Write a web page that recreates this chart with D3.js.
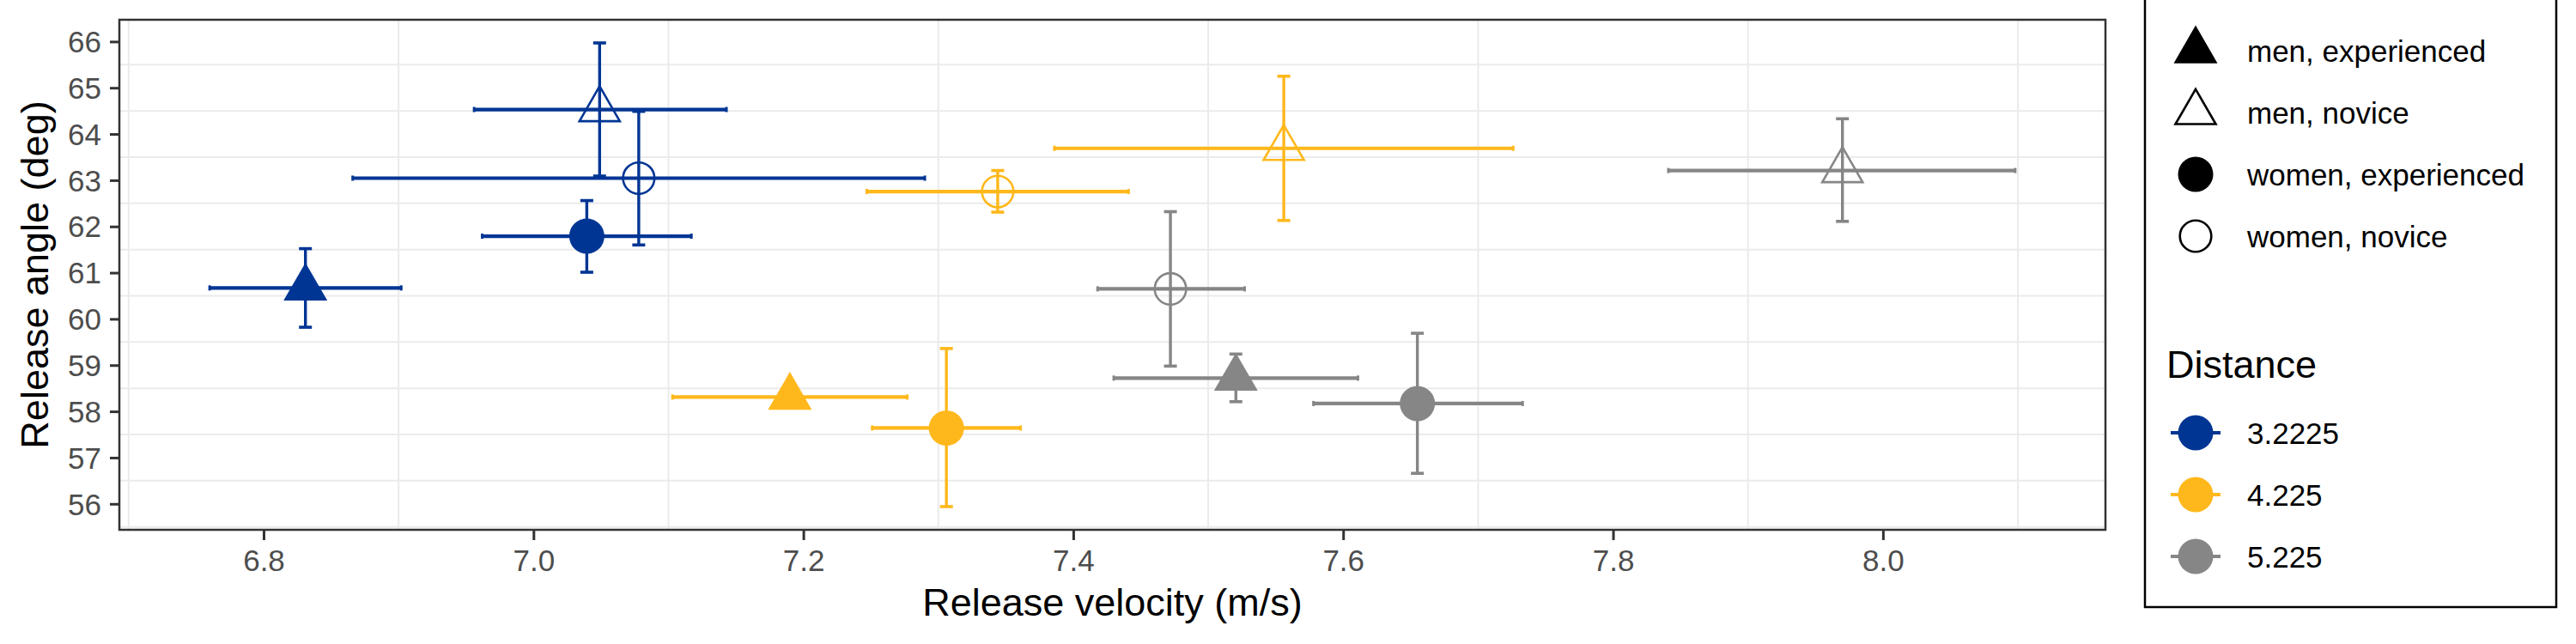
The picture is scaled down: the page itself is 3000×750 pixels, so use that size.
<!DOCTYPE html>
<html>
<head>
<meta charset="utf-8">
<script src="https://cdn.jsdelivr.net/npm/d3@7"></script>
<style>
  html, body { margin: 0; padding: 0; background: #fff; }
  svg { display: block; font-family: "Liberation Sans", Arial, Helvetica, sans-serif; }
</style>
</head>
<body>
<svg id="chart" width="3000" height="750"></svg>
<script>
// ---------------- data ----------------
const distances = ["3.2225", "4.225", "5.225"];
const distanceColors = ["#003594", "#FFB81C", "#868686"];
const groups = ["men, experienced", "men, novice", "women, experienced", "women, novice"];
const groupShape = ["triangle", "triangle", "circle", "circle"];
const groupFilled = [true, false, true, false];

// one entry per point: distance index, group index
const pointDistance = [0, 0, 0, 0, 1, 1, 1, 1, 2, 2, 2, 2];
const pointGroup    = [0, 1, 2, 3, 0, 1, 2, 3, 0, 1, 2, 3];
const velocity      = [6.831, 7.049, 7.0395, 7.078, 7.190, 7.556, 7.306, 7.344, 7.5205, 7.970, 7.655, 7.472];
const velocityLow   = [6.760, 6.956, 6.962, 6.866, 7.103, 7.386, 7.251, 7.247, 7.430, 7.841, 7.578, 7.418];
const velocityHigh  = [6.902, 7.143, 7.117, 7.290, 7.277, 7.726, 7.361, 7.441, 7.611, 8.098, 7.733, 7.527];
const angle         = [60.67, 64.53, 61.79, 63.045, 58.31, 63.69, 57.64, 62.756, 58.72, 63.21, 58.17, 60.65];
const angleLow      = [59.82, 63.09, 61.01, 61.60, 58.16, 62.13, 55.94, 62.31, 58.21, 62.11, 56.66, 58.98];
const angleHigh     = [61.52, 65.97, 62.56, 64.49, 58.46, 65.25, 59.36, 63.21, 59.24, 64.33, 59.69, 62.32];

const xTicks = [6.8, 7.0, 7.2, 7.4, 7.6, 7.8, 8.0];
const yTicks = [56, 57, 58, 59, 60, 61, 62, 63, 64, 65, 66];
const xGrid = [6.7, 6.9, 7.1, 7.3, 7.5, 7.7, 7.9, 8.1];
const yGrid = [55.5, 56.5, 57.5, 58.5, 59.5, 60.5, 61.5, 62.5, 63.5, 64.5, 65.5];

const xTitle = "Release velocity (m/s)";
const yTitle = "Release angle (deg)";
const legendTitle = "Distance";

// ---------------- layout ----------------
const panel = { left: 139, right: 2452, top: 23, bottom: 617 };
const svg = d3.select("#chart");

function expand(lo, hi) { const d = (hi - lo) * 0.05; return [lo - d, hi + d]; }
const xDom = expand(d3.min(velocityLow), d3.max(velocityHigh));
const yDom = expand(d3.min(angleLow), d3.max(angleHigh));
const x = d3.scaleLinear().domain(xDom).range([panel.left, panel.right]);
const y = d3.scaleLinear().domain(yDom).range([panel.bottom, panel.top]);

const gridColor = "#ebebeb";
const gGrid = svg.append("g");
gGrid.selectAll("line.gx").data(xGrid).join("line")
  .attr("x1", d => x(d)).attr("x2", d => x(d))
  .attr("y1", panel.top).attr("y2", panel.bottom)
  .attr("stroke", gridColor).attr("stroke-width", 2);
gGrid.selectAll("line.gy").data(yGrid).join("line")
  .attr("y1", d => y(d)).attr("y2", d => y(d))
  .attr("x1", panel.left).attr("x2", panel.right)
  .attr("stroke", gridColor).attr("stroke-width", 2);

// ---------------- error bars ----------------
const idx = d3.range(velocity.length);
const gErr = svg.append("g").attr("stroke-linecap", "butt");
const col = i => distanceColors[pointDistance[i]];
const hw = 4.2, vw = 3.4, capW = 7.5, capH = 3;

idx.forEach(i => {
  const c = col(i);
  // horizontal
  gErr.append("line")
    .attr("x1", x(velocityLow[i])).attr("x2", x(velocityHigh[i]))
    .attr("y1", y(angle[i])).attr("y2", y(angle[i]))
    .attr("stroke", c).attr("stroke-width", hw);
  [velocityLow[i], velocityHigh[i]].forEach(v => {
    gErr.append("line")
      .attr("x1", x(v)).attr("x2", x(v))
      .attr("y1", y(angle[i]) - capH).attr("y2", y(angle[i]) + capH)
      .attr("stroke", c).attr("stroke-width", 3);
  });
  // vertical
  gErr.append("line")
    .attr("x1", x(velocity[i])).attr("x2", x(velocity[i]))
    .attr("y1", y(angleLow[i])).attr("y2", y(angleHigh[i]))
    .attr("stroke", c).attr("stroke-width", vw);
  [angleLow[i], angleHigh[i]].forEach(v => {
    gErr.append("line")
      .attr("x1", x(velocity[i]) - capW).attr("x2", x(velocity[i]) + capW)
      .attr("y1", y(v)).attr("y2", y(v))
      .attr("stroke", c).attr("stroke-width", 3.6);
  });
});

// ---------------- points ----------------
function trianglePath(side) {
  const h = side * Math.sqrt(3) / 2;
  return `M0,${-2 * h / 3}L${side / 2},${h / 3}L${-side / 2},${h / 3}Z`;
}
function drawSymbol(g, shape, filled, color, cx, cy) {
  if (shape === "triangle") {
    g.append("path")
      .attr("d", trianglePath(filled ? 51 : 47))
      .attr("transform", `translate(${cx},${cy})`)
      .attr("fill", filled ? color : "none")
      .attr("stroke", filled ? "none" : color)
      .attr("stroke-width", 2.6)
      .attr("stroke-linejoin", "miter");
  } else {
    g.append("circle")
      .attr("cx", cx).attr("cy", cy)
      .attr("r", filled ? 20.5 : 18.3)
      .attr("fill", filled ? color : "none")
      .attr("stroke", filled ? "none" : color)
      .attr("stroke-width", 2.6);
  }
}
const gPts = svg.append("g");
idx.forEach(i => {
  const gi = pointGroup[i];
  drawSymbol(gPts, groupShape[gi], groupFilled[gi], col(i), x(velocity[i]), y(angle[i]));
});

// ---------------- panel border ----------------
svg.append("rect")
  .attr("x", panel.left).attr("y", panel.top)
  .attr("width", panel.right - panel.left).attr("height", panel.bottom - panel.top)
  .attr("fill", "none").attr("stroke", "#333333").attr("stroke-width", 2.5);

// ---------------- axes ----------------
const xAxis = svg.append("g")
  .attr("transform", `translate(0,${panel.bottom})`)
  .call(d3.axisBottom(x).tickValues(xTicks).tickFormat(d3.format(".1f")).tickSize(12).tickPadding(14));
const yAxis = svg.append("g")
  .attr("transform", `translate(${panel.left},0)`)
  .call(d3.axisLeft(y).tickValues(yTicks).tickFormat(d3.format("d")).tickSize(11).tickPadding(10));
[xAxis, yAxis].forEach(a => {
  a.select(".domain").remove();
  a.selectAll(".tick line").attr("stroke", "#333333").attr("stroke-width", 3);
  a.selectAll(".tick text")
    .attr("fill", "#4d4d4d")
    .style("font-size", "35px")
    .style("font-family", "'Liberation Sans', Arial, sans-serif");
});
xAxis.selectAll(".tick text").attr("dy", null).attr("y", null)
  .attr("transform", "translate(0,48)");
yAxis.selectAll(".tick text").attr("dy", "0.35em");

svg.append("text")
  .attr("x", (panel.left + panel.right) / 2).attr("y", 717)
  .attr("text-anchor", "middle")
  .style("font-size", "45px").attr("fill", "#000")
  .text(xTitle);
svg.append("text")
  .attr("transform", `translate(56,${(panel.top + panel.bottom) / 2}) rotate(-90)`)
  .attr("text-anchor", "middle")
  .style("font-size", "45px").attr("fill", "#000")
  .text(yTitle);

// ---------------- legend ----------------
const lg = svg.append("g");
lg.append("rect")
  .attr("x", 2498).attr("y", -10).attr("width", 2977 - 2498).attr("height", 707 + 10)
  .attr("fill", "#fff").attr("stroke", "#000").attr("stroke-width", 2.5);

const shapeRowY = [59, 131, 203, 275];
groups.forEach((gname, k) => {
  drawSymbol(lg, groupShape[k], groupFilled[k], "#000", 2557, shapeRowY[k]);
  lg.append("text")
    .attr("x", 2617).attr("y", shapeRowY[k] + 12.5)
    .style("font-size", "35px").attr("fill", "#000")
    .text(gname);
});

lg.append("text")
  .attr("x", 2523).attr("y", 440)
  .style("font-size", "45px").attr("fill", "#000")
  .text(legendTitle);

const colorRowY = [504, 576, 648];
distances.forEach((dname, k) => {
  const c = distanceColors[k];
  lg.append("line")
    .attr("x1", 2528).attr("x2", 2586)
    .attr("y1", colorRowY[k]).attr("y2", colorRowY[k])
    .attr("stroke", c).attr("stroke-width", 4);
  lg.append("circle")
    .attr("cx", 2557).attr("cy", colorRowY[k]).attr("r", 20.5)
    .attr("fill", c);
  lg.append("text")
    .attr("x", 2617).attr("y", colorRowY[k] + 12.5)
    .style("font-size", "35px").attr("fill", "#000")
    .text(dname);
});
</script>
</body>
</html>
